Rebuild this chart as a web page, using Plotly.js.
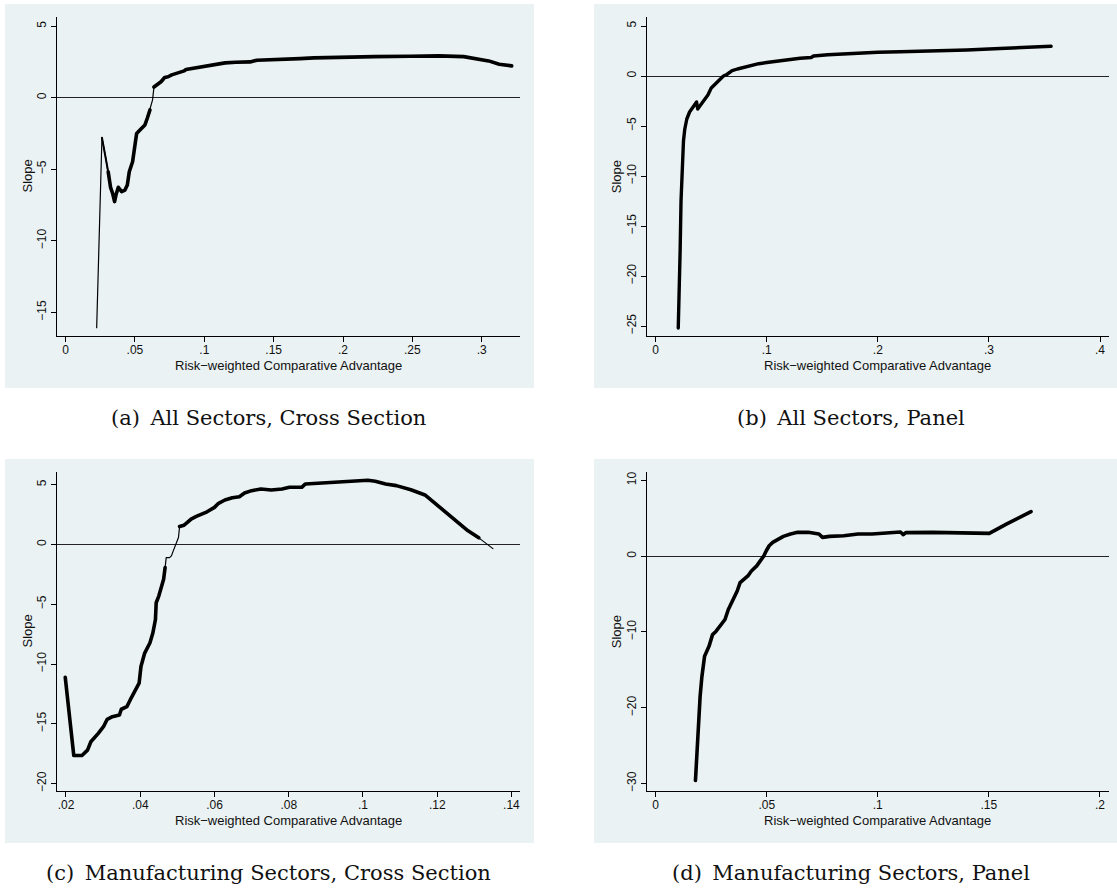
<!DOCTYPE html>
<html>
<head>
<meta charset="utf-8">
<script src="https://cdn.plot.ly/plotly-3.0.1.min.js"></script>
<style>
  html, body { margin: 0; padding: 0; background: #ffffff; }
  #chart { width: 1117px; height: 888px; }
  .scatterlayer .js-line { stroke-linejoin: round; stroke-linecap: round; }
</style>
</head>
<body>
<div id="chart"></div>
<script>
// ---- Data: rolling slope estimates against risk-weighted comparative advantage ----

// (a) All sectors, cross section
const aX = [0.0224, 0.0262, 0.0288, 0.0307, 0.0324, 0.0339, 0.0353, 0.0363, 0.0380, 0.0404,
            0.0428, 0.0445, 0.0459, 0.0483, 0.0500, 0.0512, 0.0536, 0.0572, 0.0589, 0.0608,
            0.0627, 0.0633, 0.0637, 0.0662, 0.0688, 0.0714, 0.0739, 0.0765, 0.0816, 0.0855,
            0.0868, 0.0919, 0.0970, 0.1022, 0.1100, 0.1150, 0.1227, 0.1330, 0.1380, 0.1480,
            0.1586, 0.1690, 0.1790, 0.1970, 0.2228, 0.2485, 0.2690, 0.2870, 0.2972, 0.3050,
            0.3126, 0.3178, 0.3216];
const aY = [-16.08, -2.79, -4.12, -5.17, -6.26, -6.68, -7.26, -6.80, -6.26, -6.56,
            -6.45, -6.10, -5.17, -4.47, -3.42, -2.49, -2.25, -1.90, -1.43, -0.85,
            -0.15, 0.40, 0.75, 0.90, 1.12, 1.42, 1.47, 1.60, 1.74, 1.88,
            1.98, 2.07, 2.16, 2.26, 2.35, 2.44, 2.49, 2.51, 2.63, 2.65,
            2.67, 2.74, 2.79, 2.84, 2.88, 2.91, 2.93, 2.88, 2.74, 2.58,
            2.35, 2.26, 2.23];

// (b) All sectors, panel
const bX = [0.0203, 0.0212, 0.0220, 0.0228, 0.0238, 0.0250, 0.0262, 0.0280, 0.0305, 0.0330,
            0.0352, 0.0368, 0.0378, 0.0398, 0.0420, 0.0445, 0.0470, 0.0500, 0.0530, 0.0555,
            0.0580, 0.0610, 0.0640, 0.0688, 0.0736, 0.0832, 0.0928, 0.1000, 0.1100, 0.1200,
            0.1300, 0.1400, 0.1420, 0.1550, 0.1700, 0.1850, 0.2000, 0.2200, 0.2500, 0.2800,
            0.3100, 0.3300, 0.3450, 0.3560];
const bY = [-25.2, -22.0, -17.5, -12.5, -9.0, -6.5, -5.3, -4.3, -3.6, -3.2,
            -2.8, -2.6, -3.3, -3.0, -2.6, -2.3, -1.9, -1.2, -0.9, -0.6,
            -0.3, 0.0, 0.15, 0.53, 0.70, 0.97, 1.23, 1.35, 1.50, 1.70,
            1.78, 1.85, 2.00, 2.12, 2.22, 2.35, 2.38, 2.43, 2.50, 2.60,
            2.75, 2.85, 2.92, 2.97];

// (c) Manufacturing sectors, cross section
const cX = [0.0198, 0.0221, 0.0243, 0.0258, 0.0267, 0.0277, 0.0287, 0.0301, 0.0311, 0.0325,
            0.0344, 0.0349, 0.0364, 0.0373, 0.0388, 0.0397, 0.0402, 0.0412, 0.0426, 0.0434,
            0.0441, 0.0443, 0.0450, 0.0457, 0.0463, 0.0467, 0.0470, 0.0479, 0.0484, 0.0489,
            0.0498, 0.0503, 0.0506, 0.0518, 0.0527, 0.0537, 0.0551, 0.0566, 0.0580, 0.0600,
            0.0611, 0.0628, 0.0648, 0.0667, 0.0681, 0.0700, 0.0725, 0.0753, 0.0782, 0.0802,
            0.0835, 0.0845, 0.0888, 0.0927, 0.0956, 0.0994, 0.1013, 0.1033, 0.1061, 0.1090,
            0.1129, 0.1167, 0.1225, 0.1283, 0.1312, 0.1350];
const cY = [-11.10, -17.65, -17.65, -17.20, -16.50, -16.20, -15.80, -15.24, -14.62, -14.40,
            -14.26, -13.78, -13.56, -13.00, -12.16, -11.60, -10.20, -9.08, -8.24, -7.40,
            -6.27, -4.87, -4.31, -3.47, -2.91, -1.93, -1.09, -1.09, -0.95, -0.53,
            0.17, 0.59, 1.51, 1.62, 1.85, 2.13, 2.35, 2.55, 2.74, 3.11,
            3.45, 3.73, 3.92, 4.00, 4.31, 4.51, 4.65, 4.57, 4.65, 4.79,
            4.79, 5.07, 5.13, 5.21, 5.29, 5.29, 5.38, 5.29, 5.07, 4.93,
            4.59, 4.15, 2.63, 1.15, 0.56, -0.34];

// (d) Manufacturing sectors, panel
const dX = [0.0179, 0.0188, 0.0200, 0.0208, 0.0220, 0.0240, 0.0256, 0.0272, 0.0288, 0.0312,
            0.0327, 0.0351, 0.0367, 0.0380, 0.0399, 0.0415, 0.0431, 0.0455, 0.0471, 0.0487,
            0.0498, 0.0511, 0.0527, 0.0551, 0.0575, 0.0607, 0.0639, 0.0687, 0.0735, 0.0751,
            0.0783, 0.0847, 0.0911, 0.0974, 0.1038, 0.1102, 0.1115, 0.1126, 0.1246, 0.1406,
            0.1502, 0.1581, 0.1690];
const dY = [-29.6, -24.3, -18.5, -15.9, -13.2, -11.9, -10.35, -9.9, -9.25, -8.36,
            -7.04, -5.71, -4.6, -3.5, -3.05, -2.61, -1.95, -1.28, -0.62, 0.04,
            0.71, 1.37, 1.81, 2.26, 2.61, 2.92, 3.14, 3.14, 2.92, 2.48,
            2.61, 2.70, 2.92, 2.92, 3.10, 3.19, 2.83, 3.10, 3.14, 3.10,
            3.00, 4.25, 5.88];

// Axis ticks
const aXTicks = [0, 0.05, 0.1, 0.15, 0.2, 0.25, 0.3];
const aXLabels = ['0', '.05', '.1', '.15', '.2', '.25', '.3'];
const aYTicks = [-15, -10, -5, 0, 5];
const aYLabels = ['\u221215', '\u221210', '\u22125', '0', '5'];

const bXTicks = [0, 0.1, 0.2, 0.3, 0.4];
const bXLabels = ['0', '.1', '.2', '.3', '.4'];
const bYTicks = [-25, -20, -15, -10, -5, 0, 5];
const bYLabels = ['\u221225', '\u221220', '\u221215', '\u221210', '\u22125', '0', '5'];

const cXTicks = [0.02, 0.04, 0.06, 0.08, 0.1, 0.12, 0.14];
const cXLabels = ['.02', '.04', '.06', '.08', '.1', '.12', '.14'];
const cYTicks = [-20, -15, -10, -5, 0, 5];
const cYLabels = ['\u221220', '\u221215', '\u221210', '\u22125', '0', '5'];

const dXTicks = [0, 0.05, 0.1, 0.15, 0.2];
const dXLabels = ['0', '.05', '.1', '.15', '.2'];
const dYTicks = [-30, -20, -10, 0, 10];
const dYLabels = ['\u221230', '\u221220', '\u221210', '0', '10'];

const captions = [
  '(a)\u2002All Sectors, Cross Section',
  '(b)\u2002All Sectors, Panel',
  '(c)\u2002Manufacturing Sectors, Cross Section',
  '(d)\u2002Manufacturing Sectors, Panel'
];
const xTitle = 'Risk\u2212weighted Comparative Advantage';
const yTitle = 'Slope';

// ---- Layout geometry (pixels in a 1117 x 888 figure) ----
const W = 1117, H = 888;
const fx = p => p / W;
const fy = p => 1 - p / H;

const BG = '#eaf2f3';
const SANS = 'Liberation Sans, Arial, Helvetica, sans-serif';
const SERIF = 'DejaVu Serif, Liberation Serif, serif';

const panels = [
  { x: aX, y: aY, xt: aXTicks, xl: aXLabels, yt: aYTicks, yl: aYLabels,
    xr: [-0.0062, 0.3276], yr: [-16.66, 5.65],
    plot: [57, 17, 520, 336], box: [5, 4, 534, 388], capX: 268, capY: 418,
    // [from index, to index, width] for the dense stretches of the curve
    spans: [[1, 3, 2.0], [3, 19, 3.6], [22, aX.length - 1, 3.6]] },
  { x: bX, y: bY, xt: bXTicks, xl: bXLabels, yt: bYTicks, yl: bYLabels,
    xr: [-0.0081, 0.4081], yr: [-26.0, 5.9],
    plot: [646.7, 17, 1109, 336], box: [594, 4, 1117, 388], capX: 851, capY: 418,
    spans: [[0, bX.length - 1, 3.4]] },
  { x: cX, y: cY, xt: cXTicks, xl: cXLabels, yt: cYTicks, yl: cYLabels,
    xr: [0.01758, 0.1423], yr: [-20.62, 6.07],
    plot: [57, 472, 520, 791], box: [5, 459, 534, 843], capX: 268, capY: 873,
    spans: [[0, 25, 3.6], [32, cX.length - 2, 3.6]] },
  { x: dX, y: dY, xt: dXTicks, xl: dXLabels, yt: dYTicks, yl: dYLabels,
    xr: [-0.00405, 0.2041], yr: [-30.98, 11.1],
    plot: [646.7, 472, 1109, 791], box: [594, 459, 1117, 843], capX: 851, capY: 873,
    spans: [[0, dX.length - 1, 3.6]] }
];

const traces = [];
const layout = {
  width: W, height: H,
  margin: { l: 0, r: 0, t: 0, b: 0 },
  paper_bgcolor: '#ffffff',
  plot_bgcolor: '#ffffff',
  showlegend: false,
  font: { family: SANS, size: 12, color: '#111111' },
  shapes: [],
  annotations: []
};

panels.forEach((p, i) => {
  const n = i === 0 ? '' : String(i + 1);
  const xa = 'x' + n, ya = 'y' + n;
  const [l, t, r, b] = p.plot;

  // full curve as a thin line, dense stretches drawn heavier on top
  traces.push({
    type: 'scatter', mode: 'lines', x: p.x, y: p.y, xaxis: xa, yaxis: ya,
    line: { color: '#000000', width: 1.2 }, hoverinfo: 'skip'
  });
  p.spans.forEach(([s, e, w]) => {
    traces.push({
      type: 'scatter', mode: 'lines',
      x: p.x.slice(s, e + 1), y: p.y.slice(s, e + 1), xaxis: xa, yaxis: ya,
      line: { color: '#000000', width: w }, hoverinfo: 'skip'
    });
  });

  layout['xaxis' + n] = {
    domain: [fx(l), fx(r)], range: p.xr, anchor: ya,
    tickmode: 'array', tickvals: p.xt, ticktext: p.xl,
    ticks: 'outside', ticklen: 5, tickwidth: 1, tickcolor: '#000000',
    ticklabelstandoff: -2,
    showline: true, linecolor: '#000000', linewidth: 1,
    showgrid: false, zeroline: false, fixedrange: true,
    tickfont: { family: SANS, size: 12, color: '#111111' }
  };
  layout['yaxis' + n] = {
    domain: [fy(b), fy(t)], range: p.yr, anchor: xa,
    tickmode: 'array', tickvals: p.yt, ticktext: p.yl, tickangle: -90,
    ticks: 'outside', ticklen: 5, tickwidth: 1, tickcolor: '#000000',
    showline: true, linecolor: '#000000', linewidth: 1,
    showgrid: true, gridcolor: BG, gridwidth: 1,
    zeroline: true, zerolinecolor: '#222222', zerolinewidth: 1,
    fixedrange: true,
    tickfont: { family: SANS, size: 12, color: '#111111' }
  };

  // panel background
  const [bx0, by0, bx1, by1] = p.box;
  layout.shapes.push({
    type: 'rect', xref: 'paper', yref: 'paper', layer: 'below',
    x0: fx(bx0), x1: fx(bx1), y0: fy(by1), y1: fy(by0),
    fillcolor: BG, line: { width: 0 }
  });

  // axis titles
  layout.annotations.push({
    xref: 'paper', yref: 'paper', x: fx((l + r) / 2), y: fy(b + 29),
    xanchor: 'center', yanchor: 'middle', showarrow: false,
    text: xTitle, font: { family: SANS, size: 13, color: '#111111' }
  });
  layout.annotations.push({
    xref: 'paper', yref: 'paper', x: fx(l - 30), y: fy((t + b) / 2),
    xanchor: 'center', yanchor: 'middle', showarrow: false, textangle: -90,
    text: yTitle, font: { family: SANS, size: 13, color: '#111111' }
  });

  // caption
  layout.annotations.push({
    xref: 'paper', yref: 'paper', x: fx(p.capX), y: fy(p.capY),
    xanchor: 'center', yanchor: 'middle', showarrow: false,
    text: captions[i], font: { family: SERIF, size: 21, color: '#111111' }
  });
});

Plotly.newPlot('chart', traces, layout, { staticPlot: true, displayModeBar: false });
</script>
</body>
</html>
